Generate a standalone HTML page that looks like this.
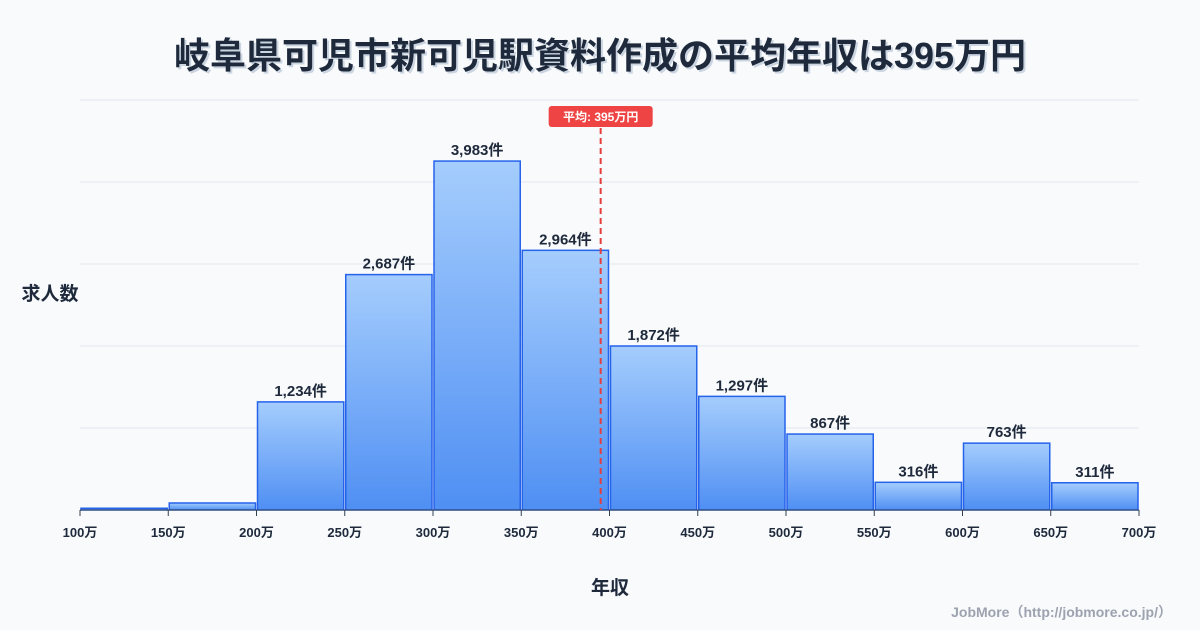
<!DOCTYPE html>
<html><head><meta charset="utf-8">
<style>
body{margin:0;background:#f8fafc;font-family:"Liberation Sans","Noto Sans CJK JP",sans-serif;}
#wrap{position:relative;width:1200px;height:630px;overflow:hidden;background:#f8fafc;}
</style></head>
<body>
<div id="wrap">
<svg id="chart" width="1200" height="630">
<defs>
<linearGradient id="g" x1="0" y1="0" x2="0" y2="1">
<stop offset="0" stop-color="#a5cdfd"/><stop offset="1" stop-color="#4f8ff3"/>
</linearGradient>
</defs>
<text x="600" y="68" text-anchor="middle" font-size="36" font-weight="bold" fill="#cbd5e1" transform="translate(2,2)" font-family="Liberation Sans, Noto Sans CJK JP, sans-serif">岐阜県可児市新可児駅資料作成の平均年収は395万円</text>
<text x="600" y="68" text-anchor="middle" font-size="36" font-weight="bold" fill="#1e293b" font-family="Liberation Sans, Noto Sans CJK JP, sans-serif">岐阜県可児市新可児駅資料作成の平均年収は395万円</text>
<text x="50" y="300" text-anchor="middle" font-size="19" font-weight="bold" fill="#1e293b" font-family="Liberation Sans, Noto Sans CJK JP, sans-serif">求人数</text>
<text x="610" y="594" text-anchor="middle" font-size="19" font-weight="bold" fill="#1e293b" font-family="Liberation Sans, Noto Sans CJK JP, sans-serif">年収</text>
<text x="1172" y="617" text-anchor="end" font-size="14" font-weight="bold" fill="#9ca3af" font-family="Liberation Sans, Noto Sans CJK JP, sans-serif">JobMore（http://jobmore.co.jp/）</text>
<g id="grid"></g><g id="bars"></g><g id="xt"></g><g id="avg"></g>
</svg>
</div>
<script>
const binStarts=[100,150,200,250,300,350,400,450,500,550,600,650];
const counts=[20,80,1234,2687,3983,2964,1872,1297,867,316,763,311];
const labels=["","","1,234件","2,687件","3,983件","2,964件","1,872件","1,297件","867件","316件","763件","311件"];
const xTicks=[100,150,200,250,300,350,400,450,500,550,600,650,700];
const avgValue=395;
const avgLabel="平均: 395万円";
const NS="http://www.w3.org/2000/svg";
const X0=80,X1=1139,Y0=510,YTOP=100,YMAX=4680;
const x=v=>X0+(v-100)/600*(X1-X0);
const y=v=>Y0-v/YMAX*(Y0-YTOP);
function mk(t,a,p){const e=document.createElementNS(NS,t);for(const k in a)e.setAttribute(k,a[k]);p.appendChild(e);return e;}
const F="Liberation Sans, Noto Sans CJK JP, sans-serif";
const grid=document.getElementById('grid');
for(let i=0;i<=5;i++){const gy=Y0-i*(Y0-YTOP)/5;const l=mk('line',{x1:X0,x2:X1,y1:gy,y2:gy,stroke:'#e2e8f0','stroke-width':1},grid);

}
const bars=document.getElementById('bars');
binStarts.forEach((b,i)=>{
const x0=x(b)+1,x1=x(b+50)-1;
const r=mk('rect',{x:x0,y:y(counts[i]),width:x1-x0,height:Y0-y(counts[i]),fill:'url(#g)',stroke:'#2563eb','stroke-width':1.5},bars);


if(labels[i]){const t=mk('text',{x:(x0+x1)/2,y:y(counts[i])-6,'text-anchor':'middle','font-size':15,'font-weight':'bold',fill:'#1e293b','font-family':F},bars);t.textContent=labels[i];

}
});
const xt=document.getElementById('xt');
const ax=mk('line',{x1:X0,x2:X1,y1:Y0,y2:Y0,stroke:'#334155','stroke-width':1},xt);


xTicks.forEach(v=>{
const tk=mk('line',{x1:x(v),x2:x(v),y1:Y0,y2:Y0+6,stroke:'#334155'},xt);


const t=mk('text',{x:x(v),y:537,'text-anchor':'middle','font-size':13,'font-weight':'bold',fill:'#1e293b','font-family':F},xt);t.textContent=v+'万';

});
const avg=document.getElementById('avg');
const ax0=x(avgValue);
const al=mk('line',{x1:ax0,x2:ax0,y1:128,y2:Y0,stroke:'#e53e3e','stroke-width':2,'stroke-dasharray':'6,4'},avg);


const ab=mk('rect',{x:ax0-52,y:106,width:104,height:21,rx:3,fill:'#ef4444'},avg);


const at=mk('text',{x:ax0,y:121,'text-anchor':'middle','font-size':12,'font-weight':'bold',fill:'#fff','font-family':F},avg);at.textContent=avgLabel;


</script>
</body></html>
